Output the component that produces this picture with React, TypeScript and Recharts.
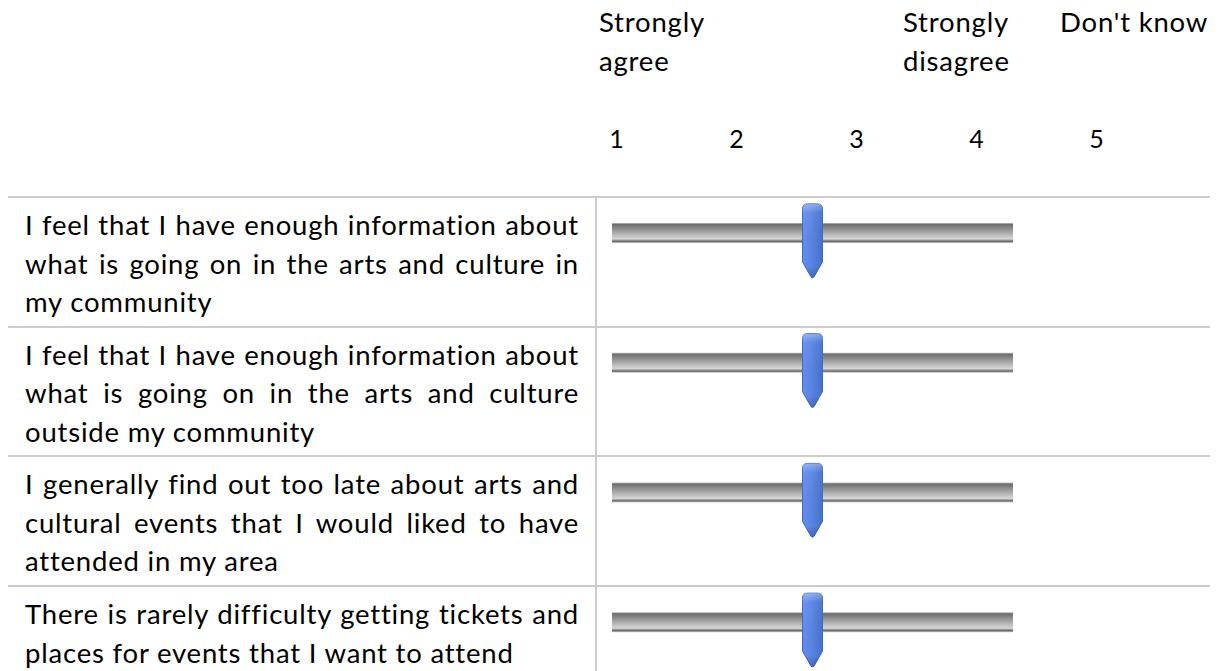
import { ComposedChart, Bar, Scatter, XAxis, YAxis } from "recharts";

// survey statements, one entry per row (lines as printed)
const statementLines = [
  ["I feel that I have enough information about", "what is going on in the arts and culture in", "my community"],
  ["I feel that I have enough information about", "what is going on in the arts and culture", "outside my community"],
  ["I generally find out too late about arts and", "cultural events that I would liked to have", "attended in my area"],
  ["There is rarely difficulty getting tickets and", "places for events that I want to attend"],
];
const statements = statementLines.map((l) => l.join(" "));

// slider runs from 1 to 5, thumb sits at the mean answer
const sliderRange = [1, 5];
const meanScores = [3, 3, 3, 3];

const scalePoints = [1, 2, 3, 4, 5];
const headerLabels = [["Strongly", "agree"], ["Strongly", "disagree"], ["Don't know"]];
const headerLeft = [591, 895, 1052];

const FONT = "Lato, 'Open Sans', sans-serif";
const FS = 27.5;
const LS = 0.8;
const LH = 38.5;
const ROW_H = 129.7;
const SEP_TOP = 188;

const rows = statements.map((statement, i) => ({
  statement,
  range: [sliderRange[0], sliderRange[1]],
  score: meanScores[i],
}));

const Track = (props: any) => {
  const { x, y, width, height } = props;
  return <rect x={x} y={y} width={width} height={height} fill="url(#trackFill)" />;
};

const Thumb = (props: any) => {
  const { cx, cy } = props;
  const l = cx - 10;
  const r = cx + 10;
  const t = cy - 29;
  const b = cy + 29;
  const tip = cy + 45;
  const d = `M ${l} ${t + 5} Q ${l} ${t} ${l + 5} ${t} L ${r - 5} ${t} Q ${r} ${t} ${r} ${t + 5} L ${r} ${b} L ${cx + 1.5} ${tip - 1} Q ${cx} ${tip + 0.5} ${cx - 1.5} ${tip - 1} L ${l} ${b} Z`;
  return (
    <g>
      <path d={d} fill="url(#thumbFill)" stroke="#4169c0" strokeWidth={1} />
      <path d={d} fill="url(#thumbShine)" stroke="none" />
    </g>
  );
};

const NumberTick = (props: any) => {
  const { x, y, payload } = props;
  return (
    <text x={x} y={y} dy={10} textAnchor="middle" fontFamily={FONT} fontSize={25} fill="#000">
      {payload.value}
    </text>
  );
};

export default function App() {
  return (
    <div
      style={{
        position: "relative",
        width: 1210,
        height: 663,
        fontFamily: FONT,
        fontSize: FS,
        letterSpacing: LS,
        lineHeight: `${LH}px`,
        color: "#000",
      }}
    >
      {/* column headings */}
      {headerLabels.map((lines, i) => (
        <div key={i} style={{ position: "absolute", left: headerLeft[i], top: -5, whiteSpace: "nowrap" }}>
          {lines.map((t) => (
            <div key={t}>{t}</div>
          ))}
        </div>
      ))}

      {/* scale numbers */}
      <div style={{ position: "absolute", left: 588, top: 0 }}>
        <ComposedChart
          width={616}
          height={160}
          data={scalePoints.map((p) => ({ point: p }))}
          margin={{ top: 0, right: 115, bottom: 0, left: 21 }}
        >
          <XAxis
            dataKey="point"
            type="number"
            domain={[1, 5]}
            ticks={scalePoints}
            interval={0}
            axisLine={false}
            tickLine={false}
            tickSize={0}
            tickMargin={0}
            height={30}
            tick={<NumberTick />}
          />
        </ComposedChart>
      </div>

      {/* row separators */}
      {rows.map((_, i) => (
        <div
          key={i}
          style={{ position: "absolute", left: 0, top: SEP_TOP + i * ROW_H, width: 1204, height: 2, background: "#cccccc" }}
        />
      ))}
      <div style={{ position: "absolute", left: 587, top: SEP_TOP, width: 2, height: 663 - SEP_TOP, background: "#cccccc" }} />

      {/* statement text */}
      {statementLines.map((lines, i) => (
        <div key={i} style={{ position: "absolute", left: 17, top: SEP_TOP + i * ROW_H + 10, width: 554 }}>
          {lines.map((t, j) => (
            <div
              key={j}
              style={{
                whiteSpace: "nowrap",
                textAlign: j < lines.length - 1 ? "justify" : "left",
                textAlignLast: j < lines.length - 1 ? "justify" : "left",
              }}
            >
              {t}
            </div>
          ))}
        </div>
      ))}

      {/* sliders */}
      <div style={{ position: "absolute", left: 588, top: 160, width: 616, height: 503, overflow: "hidden" }}>
        <ComposedChart
          layout="vertical"
          width={616}
          height={519}
          data={rows}
          margin={{ top: 0, right: 199, bottom: 0, left: 16 }}
          barCategoryGap={0}
        >
          <defs>
            <linearGradient id="trackFill" x1="0" y1="0" x2="0" y2="1">
              <stop offset="0" stopColor="#c4c4c4" />
              <stop offset="0.07" stopColor="#6e6e6e" />
              <stop offset="0.25" stopColor="#878787" />
              <stop offset="0.55" stopColor="#b4b4b4" />
              <stop offset="0.8" stopColor="#d6d6d6" />
              <stop offset="0.86" stopColor="#9a9a9a" />
              <stop offset="0.92" stopColor="#666666" />
              <stop offset="1" stopColor="#d0d0d0" />
            </linearGradient>
            <linearGradient id="thumbFill" x1="0" y1="0" x2="1" y2="0">
              <stop offset="0" stopColor="#658ff0" />
              <stop offset="0.45" stopColor="#5a84e4" />
              <stop offset="1" stopColor="#4471ca" />
            </linearGradient>
            <linearGradient id="thumbShine" x1="0" y1="0" x2="0" y2="1">
              <stop offset="0" stopColor="#ffffff" stopOpacity={0.35} />
              <stop offset="0.12" stopColor="#ffffff" stopOpacity={0.05} />
              <stop offset="0.85" stopColor="#000000" stopOpacity={0} />
              <stop offset="1" stopColor="#1d3f8f" stopOpacity={0.3} />
            </linearGradient>
          </defs>
          <XAxis type="number" domain={sliderRange} hide />
          <YAxis type="category" dataKey="statement" hide />
          <Bar dataKey="range" barSize={20} shape={<Track />} isAnimationActive={false} />
          <Scatter dataKey="score" shape={<Thumb />} isAnimationActive={false} />
        </ComposedChart>
      </div>
    </div>
  );
}
